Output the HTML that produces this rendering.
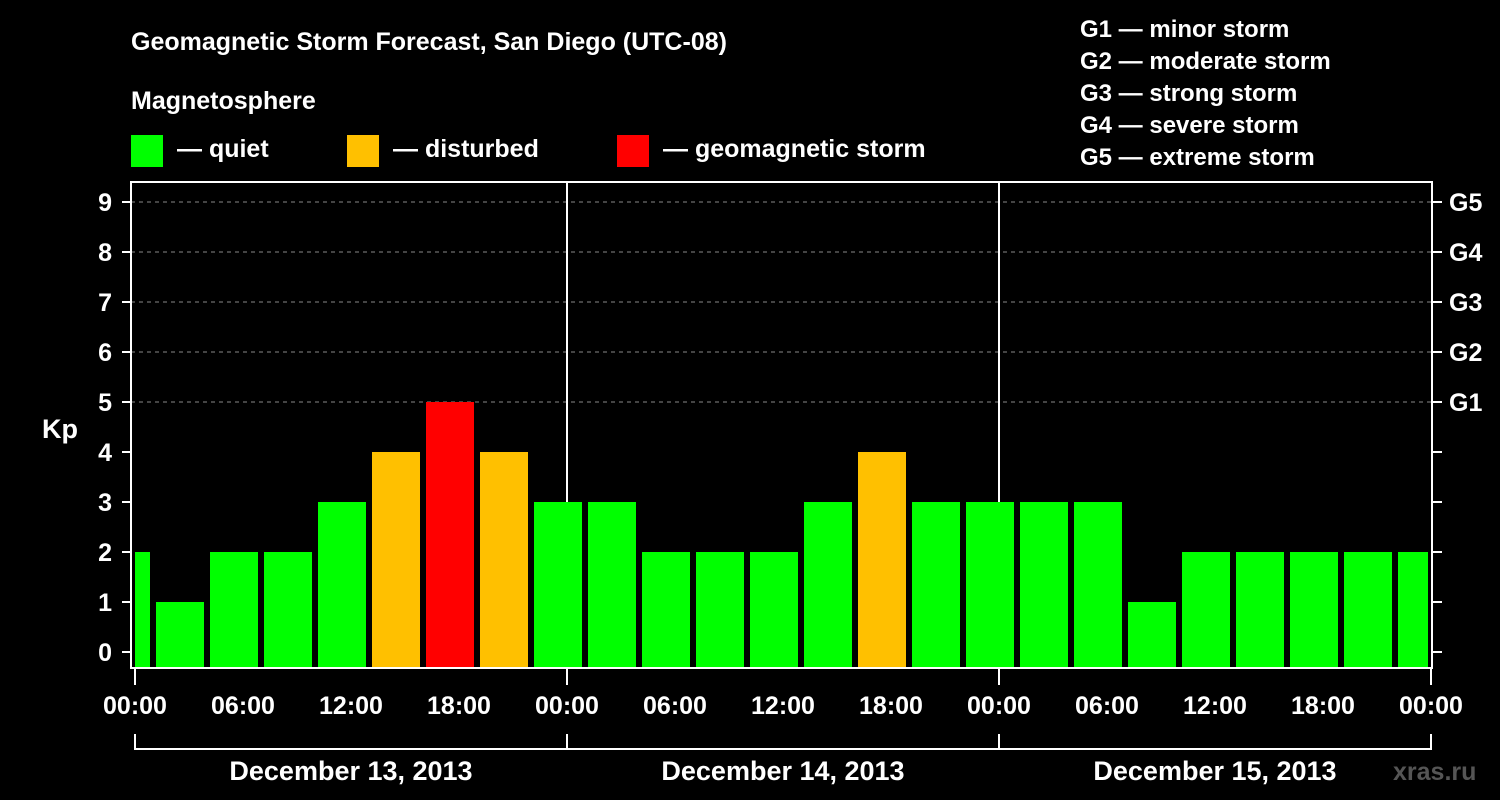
<!DOCTYPE html>
<html><head><meta charset="utf-8"><style>
html,body{margin:0;padding:0;background:#000;}
svg{display:block;font-family:"Liberation Sans",Arial,sans-serif;font-weight:bold;}
</style></head><body>
<svg id="chart" width="1500" height="800" viewBox="0 0 1500 800">
<rect width="1500" height="800" fill="#000"/>
<text x="131" y="50" fill="#fff" font-size="25">Geomagnetic Storm Forecast, San Diego (UTC-08)</text>
<text x="131" y="109" fill="#fff" font-size="25">Magnetosphere</text>
<g><rect x="131" y="135" width="32" height="32" fill="#00ff00"/><text x="177" y="157" fill="#fff" font-size="25">— quiet</text></g>
<g><rect x="347" y="135" width="32" height="32" fill="#ffc000"/><text x="393" y="157" fill="#fff" font-size="25">— disturbed</text></g>
<g><rect x="617" y="135" width="32" height="32" fill="#ff0000"/><text x="663" y="157" fill="#fff" font-size="25">— geomagnetic storm</text></g>
<g fill="#fff" font-size="24">
<text x="1080" y="37">G1 — minor storm</text>
<text x="1080" y="69">G2 — moderate storm</text>
<text x="1080" y="101">G3 — strong storm</text>
<text x="1080" y="133">G4 — severe storm</text>
<text x="1080" y="165">G5 — extreme storm</text>
</g>
<text x="42" y="438" fill="#fff" font-size="27">Kp</text>
<text x="1393" y="780" fill="#555" font-size="25">xras.ru</text>
<g id="grid"></g>
<g id="bars"></g>
<g id="axes"></g>
</svg>
<script>
const kpValues=[2,1,2,2,3,4,5,4,3,3,2,2,2,3,4,3,3,3,3,1,2,2,2,2,2];
const yTicks=[0,1,2,3,4,5,6,7,8,9];
const gLabels=["G1","G2","G3","G4","G5"];
const xTickLabels=["00:00","06:00","12:00","18:00","00:00","06:00","12:00","18:00","00:00","06:00","12:00","18:00","00:00"];
const dayLabels=["December 13, 2013","December 14, 2013","December 15, 2013"];
const NS="http://www.w3.org/2000/svg";
const L=131,R=1432,T=182,B=668;
const x=h=>135+18*h;
const y=k=>652-50*k;
function mk(tag,attrs,parent,text){const e=document.createElementNS(NS,tag);for(const k in attrs)e.setAttribute(k,attrs[k]);if(text!==undefined)e.textContent=text;parent.appendChild(e);return e;}
const grid=document.getElementById('grid'),bars=document.getElementById('bars'),axes=document.getElementById('axes');
yTicks.forEach(k=>{
 if(k>=5){const g=mk('line',{x1:L,x2:R,y1:y(k),y2:y(k),stroke:'#888','stroke-width':1,'stroke-dasharray':'4,4'},grid);
 
 }
 const t=mk('line',{x1:122,x2:L,y1:y(k),y2:y(k),stroke:'#fff','stroke-width':2},axes);
 
 
 const lb=mk('text',{x:112,y:y(k)+9,fill:'#fff','font-size':25,'text-anchor':'end'},axes,String(k));
 
 
 const rt=mk('line',{x1:R,x2:1442,y1:y(k),y2:y(k),stroke:'#fff','stroke-width':2},axes);
 
 
});
gLabels.forEach((g,i)=>{
 const lb=mk('text',{x:1449,y:y(5+i)+9,fill:'#fff','font-size':25},axes,g);
 
 
});
// day separators
[1,2].forEach(d=>{const l=mk('line',{x1:x(24*d),x2:x(24*d),y1:T,y2:B,stroke:'#fff','stroke-width':2},grid);
 
 });
kpValues.forEach((v,i)=>{
 const c=-0.5+3*i;
 let x0=x(c)-24,x1=x(c)+24;
 x0=Math.max(x0,L+4);x1=Math.min(x1,R-4);
 const col=v>=5?'#ff0000':(v>=4?'#ffc000':'#00ff00');
 const r=mk('rect',{x:x0,y:y(v),width:x1-x0,height:B-y(v),fill:col},bars);
 
 
});
const fr=mk('rect',{x:L,y:T,width:R-L,height:B-T,fill:'none',stroke:'#fff','stroke-width':2},axes);


xTickLabels.forEach((s,i)=>{
 const xx=x(6*i);
 if(i%4===0){const t=mk('line',{x1:xx,x2:xx,y1:B,y2:685,stroke:'#fff','stroke-width':2},axes);
 
 }
 const lb=mk('text',{x:xx,y:714,fill:'#fff','font-size':25,'text-anchor':'middle'},axes,s);
 
 
});
const br=mk('line',{x1:x(0),x2:x(72),y1:749,y2:749,stroke:'#fff','stroke-width':2},axes);


[0,1,2,3].forEach(d=>{const t=mk('line',{x1:x(24*d),x2:x(24*d),y1:734,y2:750,stroke:'#fff','stroke-width':2},axes);
 
 });
dayLabels.forEach((s,d)=>{const lb=mk('text',{x:x(24*d+12),y:780,fill:'#fff','font-size':27,'text-anchor':'middle'},axes,s);
 
 });
</script>
</body></html>
